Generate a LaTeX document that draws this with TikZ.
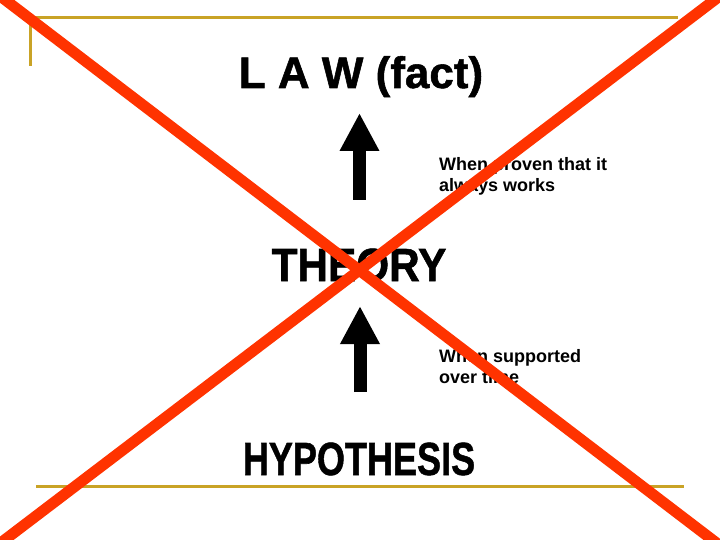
\documentclass[tikz,border=0pt]{standalone}
\usepackage{fontspec}
\setmainfont{Liberation Sans}
\newfontfamily\heavyfont[FakeBold=1.2]{Liberation Sans Bold}
\usetikzlibrary{arrows.meta}
\definecolor{gold}{RGB}{201,163,38}
\definecolor{redx}{RGB}{255,51,0}
\begin{document}
\begin{tikzpicture}[x=1pt,y=-1pt,
  goldline/.style={draw=gold,line width=3pt},
  crossline/.style={draw=redx,line width=11pt},
  bigarrow/.style={line width=13pt,-{Triangle[length=38pt,width=37pt]}},
  title/.style={inner sep=0pt,anchor=base},
  note/.style={inner sep=0pt,anchor=base west,font=\bfseries\fontsize{18}{21}\selectfont}]
\useasboundingbox (0,0) rectangle (720,540);
\fill[white] (0,0) rectangle (720,540);
% gold frame lines
\coordinate (gA) at (30,66);
\coordinate (gB) at (30,18);
\coordinate (gC) at (678,18);
\coordinate (gD) at (36,486);
\coordinate (gE) at (684,486);
\draw[goldline] (gA) -- (gB) -- (gC);
\draw[goldline] (gD) -- (gE);
% titles
\node[title,font=\heavyfont\fontsize{44}{48}\selectfont] (law) at (361,88) {L A W (fact)};
\node[title,font=\heavyfont\fontsize{46.5}{50}\selectfont] (theory) at (359,281) {\scalebox{0.91}[1]{THEORY}};
\node[title,font=\heavyfont\fontsize{46.5}{50}\selectfont] (hyp) at (359,475) {\scalebox{0.775}[1]{HYPOTHESIS}};
% notes
\node[note] (n1a) at (439,171) {When proven that it};
\node[note] (n1b) at (439,192) {always works};
\node[note] (n2a) at (439,362.5) {When supported};
\node[note] (n2b) at (439,383.5) {over time};
% arrows
\coordinate (a1s) at (359.5,200);
\coordinate (a1t) at (359.5,113);
\coordinate (a2s) at (360,392);
\coordinate (a2t) at (360,306);
\draw[bigarrow] (a1s) -- (a1t);
\draw[bigarrow] (a2s) -- (a2t);
% red cross
\begin{scope}
\clip (0,0) rectangle (720,540);
\coordinate (x1a) at (-30,-27);
\coordinate (x1b) at (748,567);
\coordinate (x2a) at (750,-27);
\coordinate (x2b) at (-31,567);
\draw[crossline] (x1a) -- (x1b);
\draw[crossline] (x2a) -- (x2b);
\end{scope}
\end{tikzpicture}
\end{document}
